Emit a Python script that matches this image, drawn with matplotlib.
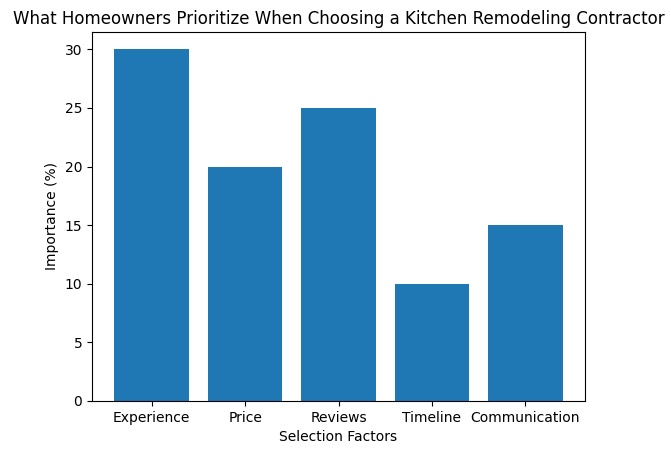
import matplotlib.pyplot as plt

factors = ["Experience", "Price", "Reviews", "Timeline", "Communication"]
importance = [30, 20, 25, 10, 15]

fig = plt.figure(figsize=(6.71, 4.55), dpi=100)
ax = fig.add_axes([0.137, 0.119, 0.735, 0.811])
ax.bar(factors, importance, color="#1f77b4")
ax.set_title("What Homeowners Prioritize When Choosing a Kitchen Remodeling Contractor")
ax.set_xlabel("Selection Factors")
ax.set_ylabel("Importance (%)")
fig.savefig("out.png", dpi=100)
